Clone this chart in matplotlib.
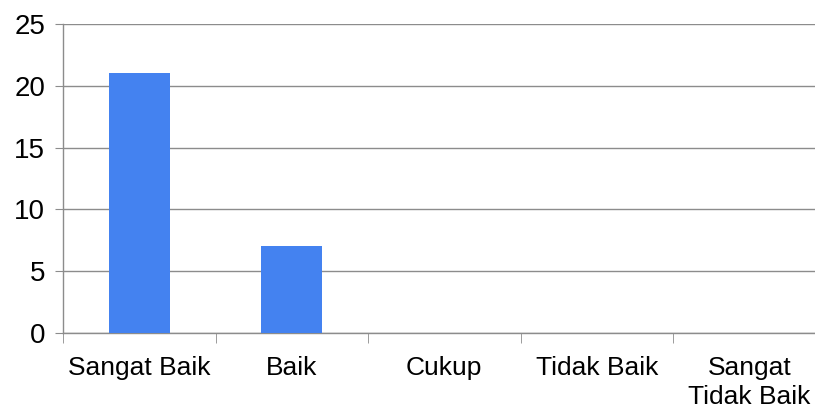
import matplotlib
matplotlib.use("Agg")
import matplotlib.pyplot as plt
import numpy as np

categories = ["Sangat Baik", "Baik", "Cukup", "Tidak Baik", "Sangat\nTidak Baik"]
values = [21, 7, 0, 0, 0]
yticks = [0, 5, 10, 15, 20, 25]

plt.rcParams['font.family'] = ['Liberation Sans', 'DejaVu Sans']

fig = plt.figure(figsize=(8.15, 4.08), dpi=100)
W, H = 815, 408
left, right, bottom, top = 63, 825.5, 333, 24
ax = fig.add_axes([left / W, 1 - bottom / H, (right - left) / W, (bottom - top) / H])

x = np.arange(len(categories)) + 0.5
ax.bar(x, values, width=0.4, color="#4482F0", zorder=3)

ax.set_xlim(0, len(categories))
ax.set_ylim(0, 25)
ax.set_yticks(yticks)
ax.set_yticklabels([str(t) for t in yticks], fontsize=20)
ax.yaxis.grid(True, color="#8c8c8c", linewidth=1.0, zorder=0)
ax.tick_params(axis='y', length=5.8, color="#8c8c8c", pad=7)

ax.set_xticks(x)
ax.set_xticklabels(categories, fontsize=19, va='top', linespacing=1.25)
ax.tick_params(axis='x', which='major', length=0, pad=16.5)
ax.set_xticks(np.arange(len(categories) + 1), minor=True)
ax.tick_params(axis='x', which='minor', length=7.2, color="#8c8c8c")

for s in ['top', 'right']:
    ax.spines[s].set_visible(False)
for s in ['left', 'bottom']:
    ax.spines[s].set_color("#8c8c8c")
    ax.spines[s].set_linewidth(1.0)

fig.savefig("out.png", dpi=100, facecolor="white")
